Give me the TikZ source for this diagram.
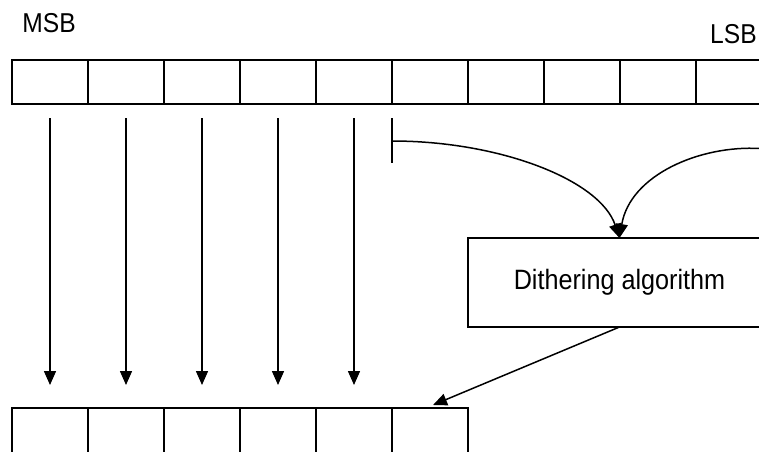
\documentclass[tikz,border=0pt]{standalone}
\usepackage{fontspec}
\setmainfont{Liberation Sans}
\usetikzlibrary{arrows.meta}
\newcommand{\tallish}[1]{\scalebox{1}[1.11]{#1}}
\begin{document}
\begin{tikzpicture}[x=1pt,y=-1pt,
  cell/.style={draw,line width=1.5pt,minimum width=76pt,minimum height=44pt,inner sep=0pt,outer sep=0pt},
  lowcell/.style={cell,minimum height=52pt},
  lbl/.style={inner sep=0pt,font=\fontsize{24.6}{30}\selectfont},
  conn/.style={line width=1.5pt,-{Triangle[width=12pt,length=14pt]}},
  plain/.style={line width=1.5pt},
  algbox/.style={draw,line width=1.5pt,minimum width=303pt,minimum height=89pt,inner sep=0pt,outer sep=0pt,font=\fontsize{25.2}{30}\selectfont}]
\clip (0,0) rectangle (759,451);
\fill[white] (0,0) rectangle (759,451);
\foreach \i in {1,...,10} {
  \node[cell] (t\i) at ({50+76*(\i-1)},82) {};
}
\foreach \i in {1,...,6} {
  \node[lowcell] (b\i) at ({50+76*(\i-1)},434) {};
}
\node[lbl,anchor=base west] (msb) at (22.2,32.7) {\tallish{MSB}};
\node[lbl,anchor=base west] (lsb) at (710,43.3) {\tallish{LSB}};
\node[algbox] (alg) at (619.5,282.5) {\tallish{Dithering algorithm}};
\foreach \i in {1,...,5} {
  \draw[conn] ([yshift=-14pt]t\i.south) -- ([yshift=23pt]b\i.north);
}
% tie-off at the boundary of cells 5 and 6
\coordinate (tieTop) at ([yshift=-14pt]t6.south west);
\coordinate (tieBot) at ([yshift=-59pt]t6.south west);
\coordinate (tieMid) at ([yshift=-37pt]t6.south west);
\draw[plain] (tieTop) -- (tieBot);
\coordinate (rstart) at (760,148.5);
\draw[conn] (tieMid) .. controls (500,141) and (600,180) .. (alg.north);
\draw[conn] (rstart) .. controls (700,145) and (630,175) .. (alg.north);
\draw[conn] (alg.south) -- ([xshift=3pt,yshift=3pt]b6.north);
\end{tikzpicture}
\end{document}
